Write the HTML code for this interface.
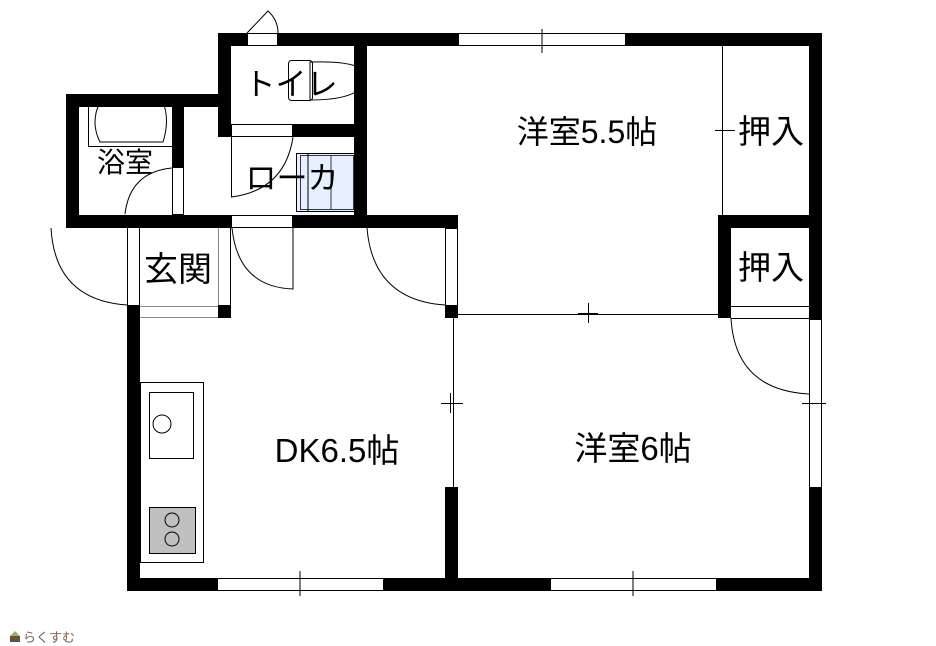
<!DOCTYPE html>
<html><head><meta charset="utf-8"><style>
html,body{margin:0;padding:0;background:#fff;}
svg{display:block;}
text{font-family:"Liberation Sans","Noto Sans CJK JP",sans-serif;fill:#000;}
</style></head><body>
<svg width="936" height="646" viewBox="0 0 936 646" xmlns="http://www.w3.org/2000/svg">
<g fill="#000">
<rect x="218" y="33" width="29" height="13"/>
<rect x="278" y="33" width="180" height="13"/>
<rect x="626" y="33" width="196" height="13"/>
<rect x="809" y="33" width="13" height="287"/>
<rect x="809" y="487" width="13" height="104"/>
<rect x="218" y="33" width="13" height="104"/>
<rect x="354" y="33" width="13" height="195"/>
<rect x="293" y="124" width="61" height="13"/>
<rect x="66" y="94" width="152" height="13"/>
<rect x="66" y="94" width="13" height="134"/>
<rect x="172" y="107" width="12" height="60"/>
<rect x="66" y="215" width="165" height="13"/>
<rect x="293" y="215" width="165" height="13"/>
<rect x="445" y="215" width="13" height="13"/>
<rect x="127" y="305" width="13" height="25"/>
<rect x="218" y="305" width="13" height="13"/>
<rect x="718" y="215" width="104" height="13"/>
<rect x="718" y="215" width="13" height="103"/>
<rect x="445" y="306" width="13" height="12"/>
<rect x="127" y="318" width="13" height="273"/>
<rect x="127" y="578" width="90" height="13"/>
<rect x="384" y="578" width="166" height="13"/>
<rect x="717" y="578" width="105" height="13"/>
<rect x="445" y="487" width="13" height="104"/>
</g>
<g fill="none" stroke="#000" stroke-width="1">
<rect x="458.5" y="33.5" width="167" height="12"/>
<line x1="542" y1="29" x2="542" y2="53"/>
<rect x="217.5" y="578.5" width="166" height="12"/>
<line x1="300" y1="571" x2="300" y2="596"/>
<rect x="550.5" y="578.5" width="166" height="12"/>
<line x1="633" y1="571" x2="633" y2="596"/>
<line x1="809.5" y1="318" x2="809.5" y2="487"/>
<line x1="821.5" y1="318" x2="821.5" y2="487"/>
<line x1="802" y1="403.5" x2="826" y2="403.5"/>
<rect x="247.5" y="33.5" width="30" height="12"/>
<path d="M247 33 L268 11 Q278 20 278 33"/>
<rect x="231.5" y="124.5" width="61" height="12"/>
<path d="M231.5 137 L231.5 197 Q285 190 293 137"/>
<rect x="172.5" y="167.5" width="11" height="47"/>
<path d="M125 214 Q130 172 172 168"/>
<rect x="231.5" y="215.5" width="61" height="12"/>
<path d="M232 228 Q238 287 293 289 L293 228"/>
<rect x="445.5" y="228.5" width="12" height="77"/>
<path d="M367 228 Q373 300 445 305"/>
<line x1="127.5" y1="228" x2="127.5" y2="305"/>
<line x1="139.5" y1="228" x2="139.5" y2="305"/>
<line x1="218.5" y1="228" x2="218.5" y2="305" stroke="#888"/>
<line x1="230.5" y1="228" x2="230.5" y2="305"/>
<line x1="140" y1="306.5" x2="218" y2="306.5" stroke="#888"/>
<line x1="140" y1="317.5" x2="218" y2="317.5" stroke="#888"/>
<path d="M51 228 Q55 300 127 305"/>
<line x1="722.5" y1="46" x2="722.5" y2="215"/>
<line x1="715" y1="130.5" x2="735" y2="130.5"/>
<line x1="731" y1="306.5" x2="809" y2="306.5"/>
<line x1="731" y1="318.5" x2="809" y2="318.5"/>
<path d="M731 318 Q735 390 809 394"/>
<line x1="458" y1="314.5" x2="718" y2="314.5"/>
<line x1="588.5" y1="303" x2="588.5" y2="323"/>
<line x1="578" y1="313.5" x2="598" y2="313.5"/>
<line x1="453.5" y1="318" x2="453.5" y2="487"/>
<line x1="441" y1="403.5" x2="463" y2="403.5"/>
<line x1="450.5" y1="393" x2="450.5" y2="413"/>
<rect x="88.5" y="97.5" width="84" height="49"/>
<path d="M100 102 L163 102 Q170 120 163 142 L100 142 Q90 122 100 102 Z"/>
<rect x="288.5" y="60.5" width="24" height="40" rx="3"/>
<path d="M310 62 Q370 60 366 80 Q360 100 310 100 Z"/>
<rect x="140.5" y="382.5" width="63" height="180"/>
<rect x="149.5" y="392.5" width="44" height="66"/>
<circle cx="162" cy="424" r="9"/>
</g>
<rect x="296.5" y="153.5" width="58" height="58" fill="#e6f0ff" stroke="#000"/>
<rect x="300.5" y="155.5" width="53" height="54" fill="none" stroke="#335"/>
<line x1="308" y1="154" x2="308" y2="211" stroke="#000"/>
<line x1="331" y1="156" x2="331" y2="210" stroke="#335"/>
<rect x="149.5" y="507.5" width="46" height="46" fill="#c0c0c0" stroke="#000"/>
<circle cx="172" cy="520" r="7" fill="none" stroke="#000"/>
<circle cx="172" cy="539" r="7" fill="none" stroke="#000"/>
<text x="291" y="95" font-size="31" text-anchor="middle">トイレ</text>
<text x="125" y="172" font-size="28" text-anchor="middle">浴室</text>
<text x="292" y="189" font-size="31" text-anchor="middle">ローカ</text>
<text x="178" y="281" font-size="34" text-anchor="middle">玄関</text>
<text x="587" y="143" font-size="32" text-anchor="middle">洋室5.5帖</text>
<text x="771" y="143" font-size="33" text-anchor="middle">押入</text>
<text x="771" y="279" font-size="33" text-anchor="middle">押入</text>
<text x="337" y="462" font-size="33" text-anchor="middle">DK6.5帖</text>
<text x="633" y="460" font-size="33" text-anchor="middle">洋室6帖</text>
<path d="M10 636 L15 631 L20 636 Z" fill="#9ab84a"/>
<rect x="10" y="636" width="10" height="6" fill="#6b5040"/>
<text x="23" y="642" font-size="13" style="fill:#7a6050">らくすむ</text>
</svg>
</body></html>
